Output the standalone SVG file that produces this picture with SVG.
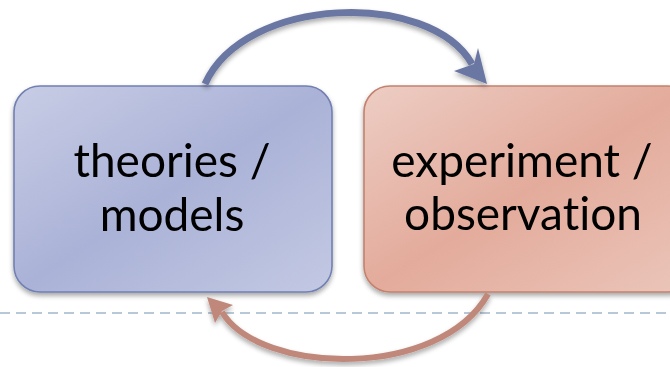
<svg xmlns="http://www.w3.org/2000/svg" width="670" height="367" viewBox="0 0 670 367">
  <style>
    .label { font-family: "Lato", "Open Sans", "DejaVu Sans", sans-serif; font-size: 46px; fill: #000; text-anchor: middle; font-variant-ligatures: none; }
    .box { stroke-width: 1.6; }
  </style>
  <defs>
    <linearGradient id="gradBlue" x1="0" y1="0" x2="1" y2="1">
      <stop offset="0" stop-color="#c8cde5"/>
      <stop offset="0.5" stop-color="#aab2d7"/>
      <stop offset="1" stop-color="#c3c9e3"/>
    </linearGradient>
    <linearGradient id="gradRed" x1="0" y1="0" x2="1" y2="1">
      <stop offset="0" stop-color="#edcdc4"/>
      <stop offset="0.5" stop-color="#e3ab9b"/>
      <stop offset="1" stop-color="#ebc6bb"/>
    </linearGradient>
    <filter id="shadow" x="-10%" y="-10%" width="120%" height="130%">
      <feGaussianBlur in="SourceAlpha" stdDeviation="2.5"/>
      <feOffset dx="0" dy="3" result="b"/>
      <feComponentTransfer><feFuncA type="linear" slope="0.35"/></feComponentTransfer>
      <feMerge><feMergeNode/><feMergeNode in="SourceGraphic"/></feMerge>
    </filter>
  </defs>

  <!-- dashed separator -->
  <line x1="0" y1="313" x2="670" y2="313" stroke="#a2b6ca" stroke-width="1.5" stroke-dasharray="10 6"/>

  <g id="theories-models" filter="url(#shadow)">
    <rect class="box" x="14" y="86" width="318" height="206" rx="26" fill="url(#gradBlue)" stroke="#7280b2"/>
    <text class="label" x="172" y="177">theories /</text>
    <text class="label" x="172" y="231">models</text>
  </g>

  <g id="experiment-observation" filter="url(#shadow)">
    <rect class="box" x="364" y="86" width="330" height="206" rx="26" fill="url(#gradRed)" stroke="#c2826f"/>
    <text class="label" x="522" y="177">experiment /</text>
    <text class="label" x="523" y="230">observation</text>
  </g>

  <g id="connectors" filter="url(#shadow)">
    <g fill="#6b77a2" stroke="none">
      <path d="M205,84 C245,-5 430,-10 472,64" fill="none" stroke="#6b77a2" stroke-width="7"/>
      <polygon points="487,84 454,71 474,64 478,48"/>
    </g>
    <g fill="#c0887a" stroke="none">
      <path d="M488,294 C440,380 260,375 222,312" fill="none" stroke="#c0887a" stroke-width="6"/>
      <polygon points="207,297 233,305 222,311 215,323"/>
    </g>
  </g>
</svg>
